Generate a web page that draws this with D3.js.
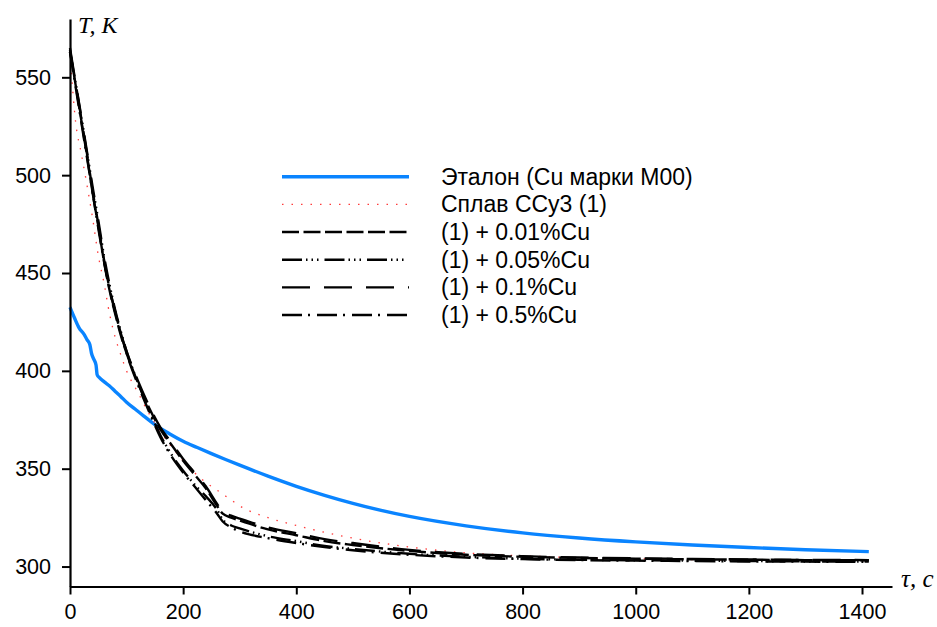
<!DOCTYPE html>
<html>
<head>
<meta charset="utf-8">
<script src="https://cdn.jsdelivr.net/npm/d3@7"></script>
<style>
  html, body { margin: 0; padding: 0; background: #fff; }
  svg { display: block; }
  .tick text { font-family: "Liberation Sans", Arial, sans-serif; font-size: 21.5px; fill: #000; }
</style>
</head>
<body>
<svg id="chart" width="937" height="627"></svg>
<script>
// Reference copper (blue curve)
const tauRef = [0, 8, 16, 24, 30, 35, 38, 42, 46, 48, 52, 60, 70, 80, 90, 100, 115, 130, 150, 175, 200, 225, 250, 275, 300, 350, 400, 450, 500, 550, 600, 700, 800, 900, 1000, 1100, 1200, 1300, 1412];
const tempRef = [432.5, 427, 422, 419, 416, 413.5, 409, 406, 403, 398, 396.5, 394.5, 392.3, 389.5, 386.8, 384, 380.5, 377, 372.5, 368, 364, 360.8, 357.7, 354.7, 351.8, 346.2, 341, 336.4, 332.3, 328.7, 325.6, 320.8, 317.2, 314.6, 312.6, 311, 309.7, 308.6, 307.6];

// Common time grid for the alloy curves
const tauAlloy = [0, 10, 20, 30, 40, 50, 60, 70, 80, 90, 100, 120, 140, 160, 180, 200, 220, 240, 260, 270, 285, 300, 350, 400, 450, 500, 600, 700, 800, 900, 1000, 1100, 1200, 1300, 1412];
const tempBase = [562, 527, 511, 495, 478, 459, 445, 429, 417, 408, 400, 389, 378, 369, 361, 354, 348, 343, 339, 337, 334, 331, 325, 321, 317.5, 314.5, 310, 307, 305.5, 304.5, 304, 303.6, 303.3, 303.1, 303];
const temp001 = [564, 546, 528, 510, 491, 474, 456, 441, 429, 418, 409, 394, 381, 370, 362, 354, 347, 340, 331, 327, 325, 323.5, 319, 316, 313, 311, 308, 306, 305, 304.4, 304, 303.7, 303.5, 303.3, 303.2];
const temp005 = [563, 547, 530, 512, 494, 477, 459, 444, 431, 420, 410, 394, 380, 367, 357, 349, 342, 336, 329, 324, 321, 319.5, 315.5, 313, 310.5, 309, 306.5, 305, 304, 303.5, 303.2, 303, 302.8, 302.6, 302.5];
const temp01 = [565, 547, 529, 511, 492, 475, 457, 442, 430, 419, 410, 395, 382, 371, 363, 355, 348, 341, 332, 328, 326, 324.5, 320, 317, 314, 312, 308.5, 306.5, 305.3, 304.6, 304.2, 303.9, 303.6, 303.4, 303.3];
const temp05 = [563, 545, 527, 509, 491, 473, 456, 442, 430, 419, 409, 393, 379, 366, 356, 348, 341, 334, 327, 323, 320, 318, 314.5, 312, 310, 308.3, 306, 304.6, 303.8, 303.3, 303, 302.8, 302.6, 302.5, 302.4];

// Axis ticks
const xTicks = [0, 200, 400, 600, 800, 1000, 1200, 1400];
const yTicks = [300, 350, 400, 450, 500, 550];

// Legend labels
const labels = ["Эталон (Cu марки M00)", "Сплав ССу3 (1)", "(1) + 0.01%Cu", "(1) + 0.05%Cu", "(1) + 0.1%Cu", "(1) + 0.5%Cu"];

const series = [
  { label: labels[0], tau: tauRef, temp: tempRef, color: "#0a84ff", width: 3.4, dash: null },
  { label: labels[1], tau: tauAlloy, temp: tempBase, color: "#ff3b3b", width: 1.3, dash: "1.5,8" },
  { label: labels[2], tau: tauAlloy, temp: temp001, color: "#000", width: 2.4, dash: "17,4.5" },
  { label: labels[3], tau: tauAlloy, temp: temp005, color: "#000", width: 2.4, dash: "20,4,1.5,4,1.5,4,1.5,6" },
  { label: labels[4], tau: tauAlloy, temp: temp01, color: "#000", width: 2.4, dash: "28,14" },
  { label: labels[5], tau: tauAlloy, temp: temp05, color: "#000", width: 2.4, dash: "20,6,2,7" }
];

const svg = d3.select("#chart");

const x = d3.scaleLinear().domain([0, 1453]).range([70, 892]);
const y = d3.scaleLinear().domain([289.8, 579.8]).range([586.5, 19]);

// Curves (blue drawn first so the alloy curves sit on top)
const line = d3.line().x(d => x(d[0])).y(d => y(d[1])).curve(d3.curveMonotoneX);
const drawOrder = [0, 1, 3, 5, 4, 2];
svg.append("g").selectAll("path")
  .data(drawOrder.map(i => series[i]))
  .join("path")
  .attr("d", s => line(s.tau.map((t, k) => [t, s.temp[k]])))
  .attr("fill", "none")
  .attr("stroke", s => s.color)
  .attr("stroke-width", s => s.width)
  .attr("stroke-dasharray", s => s.dash)
  .attr("stroke-linejoin", "round");

// Axes
const xAxis = d3.axisBottom(x).tickValues(xTicks).tickFormat(d3.format("d"))
  .tickSizeInner(8).tickSizeOuter(0).tickPadding(9);
const yAxis = d3.axisLeft(y).tickValues(yTicks).tickFormat(d3.format("d"))
  .tickSizeInner(8).tickSizeOuter(0).tickPadding(11);

const gx = svg.append("g").attr("transform", "translate(0,586.5)").call(xAxis);
const gy = svg.append("g").attr("transform", "translate(70,0)").call(yAxis);
[gx, gy].forEach(g => {
  g.select(".domain").attr("stroke", "#000").attr("stroke-width", 2.2);
  g.selectAll(".tick line").attr("stroke", "#000").attr("stroke-width", 2);
});

// Axis titles
svg.append("text")
  .attr("x", 78).attr("y", 33)
  .style("font-family", "'Liberation Serif', 'Times New Roman', serif")
  .style("font-style", "italic").style("font-size", "24px")
  .text("T, K");
svg.append("text")
  .attr("x", 901).attr("y", 587)
  .style("font-family", "'Liberation Serif', 'Times New Roman', serif")
  .style("font-style", "italic").style("font-size", "25px")
  .text("τ, c");

// Legend
const legendY = d3.scaleLinear().domain([0, 5]).range([176.7, 315]);
const legend = svg.append("g").selectAll("g")
  .data(series)
  .join("g")
  .attr("transform", (d, i) => `translate(0,${legendY(i)})`);
legend.append("line")
  .attr("x1", 282).attr("x2", 409)
  .attr("stroke", d => d.color)
  .attr("stroke-width", d => d.width)
  .attr("stroke-dasharray", d => d.dash);
legend.append("text")
  .attr("x", 441).attr("dy", "0.35em")
  .style("font-family", "'Liberation Sans', Arial, sans-serif")
  .style("font-size", "23px")
  .text(d => d.label);
</script>
</body>
</html>
